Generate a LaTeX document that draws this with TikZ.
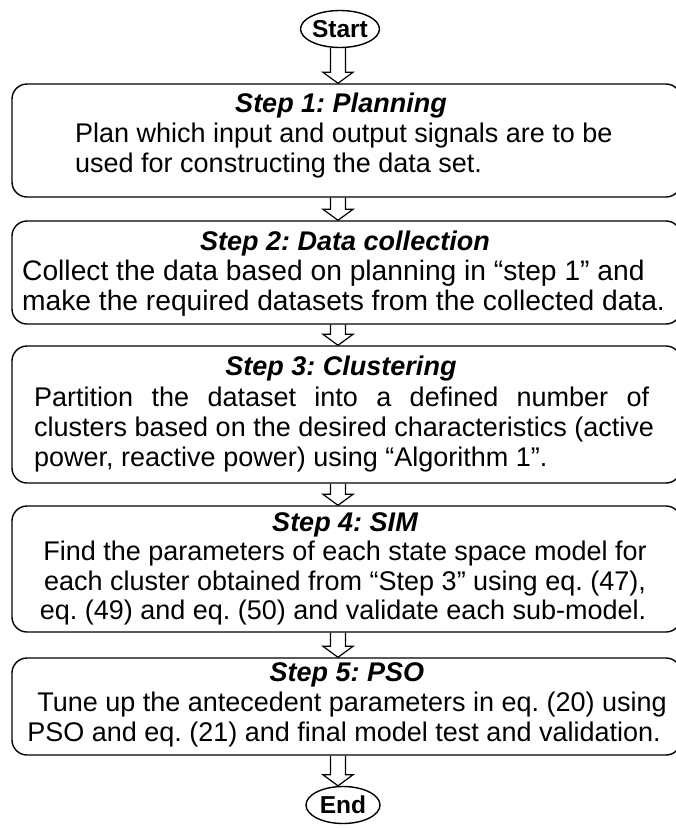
\documentclass[tikz,border=0pt]{standalone}
\usepackage{fontspec}
\setmainfont{Liberation Sans}
\usetikzlibrary{calc,shapes.geometric}
\frenchspacing
\tikzset{
 box/.style={draw, line width=1.4pt, rounded corners=15pt, minimum width=669pt, inner sep=0pt},
 term/.style={draw, ellipse, line width=1.4pt, minimum width=74pt, minimum height=37pt, inner sep=0pt, font=\fontsize{24.5}{28}\selectfont\bfseries},
 ttl/.style={anchor=base, inner sep=0pt, font=\fontsize{27}{30}\selectfont\bfseries\itshape},
 txt/.style={anchor=base west, inner sep=0pt, font=\fontsize{27}{30}\selectfont},
 txtc/.style={anchor=base, inner sep=0pt, font=\fontsize{27}{30}\selectfont},
 txtb/.style={anchor=base west, inner sep=0pt, font=\fontsize{28.2}{30}\selectfont},
 arr/.style={draw, line width=1.2pt, line join=miter}
}
\newcommand\blockarrow[2]{%
 \path (#1.south -| axis) coordinate (ba) (#2.north -| axis) coordinate (bb);
 \draw[arr] let \p1=(ba), \p2=(bb) in
  (\x1-7.5pt,\y1) -- (\x1-7.5pt,\y2+11pt) -- (\x1-15pt,\y2+11pt) -- (\x2,\y2)
  -- (\x1+15pt,\y2+11pt) -- (\x1+7.5pt,\y2+11pt) -- (\x1+7.5pt,\y1);}
\begin{document}
\begin{tikzpicture}[x=1pt,y=-1pt]
\useasboundingbox (0,0) rectangle (676,828);
\fill[white] (0,0) rectangle (676,828);
\clip (0,0) rectangle (676,828);
\coordinate (axis) at (338,0);
% terminals
\node[term] (start) at (340,29) {Start};
\node[term] (end) at (343,805) {End};
% boxes
\node[box, minimum height=113pt] (s1) at (346.5,140.5) {};
\node[box, minimum height=103pt] (s2) at (346.5,272.5) {};
\node[box, minimum height=137pt] (s3) at (346.5,414.5) {};
\node[box, minimum height=126pt] (s4) at (346.5,569) {};
\node[box, minimum height=97pt] (s5) at (346.5,706.5) {};
% box 1
\node[ttl] (t1) at (341,112) {Step 1: Planning};
\node[txt] (l1a) at (75,142) {Plan which input and output signals are to be};
\node[txt] (l1b) at (75,172) {used for constructing the data set.};
% box 2
\node[ttl] (t2) at (345,250) {Step 2: Data collection};
\node[txtb] (l2a) at (22,280) {Collect the data based on planning in “step 1” and};
\node[txtb] (l2b) at (22,310) {make the required datasets from the collected data.};
% box 3
\node[ttl] (t3) at (341,375) {Step 3: Clustering};
\node[txt] (l3a) at (34,406) {\makebox[615pt][s]{Partition the dataset into a defined number of}};
\node[txt] (l3b) at (34,436) {clusters based on the desired characteristics (active};
\node[txt] (l3c) at (34,466) {power, reactive power) using “Algorithm 1”.};
% box 4
\node[ttl] (t4) at (345,531) {Step 4: SIM};
\node[txtc] (l4a) at (345,560) {Find the parameters of each state space model for};
\node[txtc] (l4b) at (345,590) {each cluster obtained from “Step 3” using eq. (47),};
\node[txtc] (l4c) at (343,619) {eq. (49) and eq. (50) and validate each sub-model.};
% box 5
\node[ttl] (t5) at (347,681) {Step 5: PSO};
\node[txtc] (l5a) at (352,711) {Tune up the antecedent parameters in eq. (20) using};
\node[txtc] (l5b) at (344,741) {PSO and eq. (21) and final model test and validation.};
% arrows
\blockarrow{start}{s1}
\blockarrow{s1}{s2}
\blockarrow{s2}{s3}
\blockarrow{s3}{s4}
\blockarrow{s4}{s5}
\blockarrow{s5}{end}
\end{tikzpicture}
\end{document}
